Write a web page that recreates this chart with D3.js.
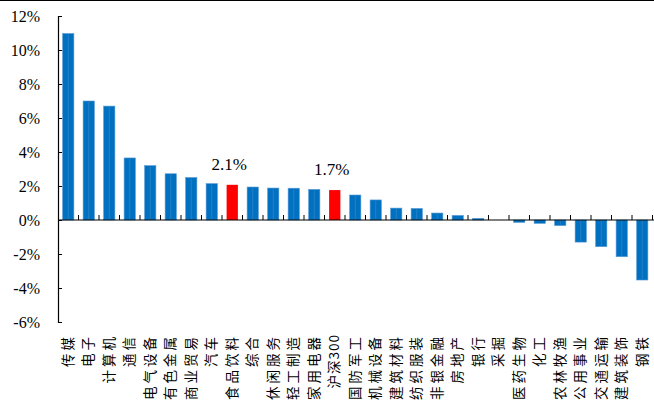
<!DOCTYPE html>
<html><head><meta charset="utf-8">
<script src="https://cdn.jsdelivr.net/npm/d3@7/dist/d3.min.js"></script>
<style>body{margin:0;background:#fff}svg{display:block}</style>
</head><body>
<script>
const categories = ["传媒","电子","计算机","通信","电气设备","有色金属","商业贸易","汽车","食品饮料","综合","休闲服务","轻工制造","家用电器","沪深300","国防军工","机械设备","建筑材料","纺织服装","非银金融","房地产","银行","采掘","医药生物","化工","农林牧渔","公用事业","交通运输","建筑装饰","钢铁"];
const values = [10.97,7.0,6.7,3.65,3.2,2.72,2.5,2.14,2.07,1.94,1.88,1.87,1.8,1.76,1.47,1.18,0.7,0.68,0.41,0.27,0.1,0.0,-0.14,-0.2,-0.33,-1.3,-1.57,-2.16,-3.53];
const highlighted = ["食品饮料","沪深300"];
const annotations = [{cat:"食品饮料", text:"2.1%"},{cat:"沪深300", text:"1.7%"}];
const yTicks = [-6,-4,-2,0,2,4,6,8,10,12];

const W=654,H=407;
const svg=d3.select("body").append("svg").attr("width",W).attr("height",H);
const x=d3.scaleBand().domain(categories).range([58,652.5]).paddingInner(0.45).paddingOuter(0.225);
const y=d3.scaleLinear().domain([-6,12]).range([322,16]);
const serif="'Liberation Serif','Times New Roman',serif";

svg.append("line").attr("x1",0).attr("x2",W).attr("y1",0.5).attr("y2",0.5).attr("stroke","#000");

// bars
const g=svg.append("g");
g.selectAll("rect").data(categories).join("rect")
 .attr("x",d=>x(d)).attr("width",x.bandwidth())
 .attr("y",(d,i)=>y(Math.max(0,values[i])))
 .attr("height",(d,i)=>Math.abs(y(values[i])-y(0)))
 .attr("fill",d=>highlighted.includes(d)?"#FF0000":"#0070C0")
 .attr("stroke",d=>highlighted.includes(d)?"none":"#5B9BD5").attr("stroke-width",0.6);
g.selectAll("line.mid").data(categories.filter((d,i)=>!highlighted.includes(d)&&Math.abs(values[i])>0.3)).join("line")
 .attr("class","mid")
 .attr("x1",d=>x(d)+x.bandwidth()/2).attr("x2",d=>x(d)+x.bandwidth()/2)
 .attr("y1",d=>y(Math.max(0,values[categories.indexOf(d)]))+1)
 .attr("y2",d=>y(Math.min(0,values[categories.indexOf(d)]))-1)
 .attr("stroke","#3F8CCF").attr("stroke-width",0.6);

// y axis
const yAxis=d3.axisLeft(y).tickValues(yTicks).tickFormat(d=>d+"%").tickSize(-4).tickPadding(18);
const ya=svg.append("g").attr("transform","translate(58,0)").call(yAxis);
ya.select(".domain").attr("stroke","#000").attr("stroke-width",1.2);
ya.selectAll(".tick line").attr("stroke","#000");
ya.selectAll("text").attr("font-family",serif).attr("font-size",16).attr("fill","#000");

// x axis at zero
const step=x.step();
const bounds=d3.range(categories.length).map(i=>x(categories[i])-x.paddingInner()*step/2+step);
svg.append("line").attr("x1",58).attr("x2",W).attr("y1",y(0)).attr("y2",y(0)).attr("stroke","#000").attr("stroke-width",1.2);
svg.selectAll("line.xt").data(bounds).join("line").attr("class","xt")
 .attr("x1",d=>d).attr("x2",d=>d).attr("y1",y(0)).attr("y2",y(0)-5).attr("stroke","#000");

// x labels
svg.selectAll("text.xl").data(categories).join("text").attr("class","xl")
 .attr("transform",d=>`translate(${x(d)+x.bandwidth()/2},334) rotate(-90)`)
 .attr("text-anchor","end").attr("dy","0.35em")
 .attr("font-family","'Noto Sans CJK SC',sans-serif").attr("font-size",13.5)
 .attr("letter-spacing",d=>/\d/.test(d)?1:3)
 .attr("fill","#000").text(d=>d);

// annotations
svg.selectAll("text.ann").data(annotations).join("text").attr("class","ann")
 .attr("x",d=>x(d.cat)+x.bandwidth()/2-3)
 .attr("y",d=>y(values[categories.indexOf(d.cat)])-15)
 .attr("text-anchor","middle").attr("font-family",serif).attr("font-size",17).attr("fill","#000")
 .text(d=>d.text);
</script>
</body></html>
